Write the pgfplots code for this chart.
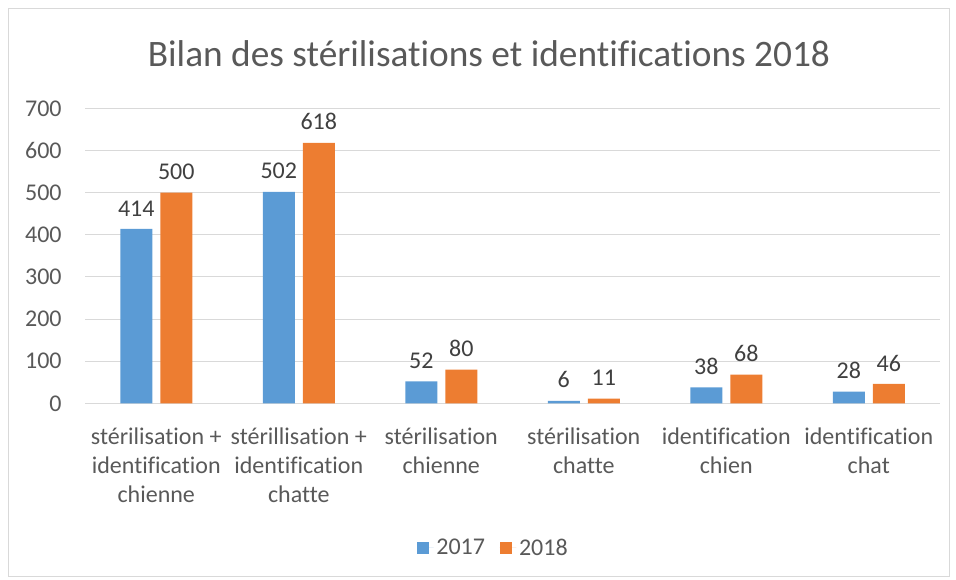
\documentclass[border=0pt]{standalone}
\usepackage{fontspec}
\setmainfont{Carlito}[Ligatures=NoCommon]
\usepackage{pgfplots}
\pgfplotsset{compat=1.18}
\definecolor{cblue}{HTML}{5B9BD5}
\definecolor{corange}{HTML}{ED7D31}
\definecolor{ctext}{HTML}{595959}
\definecolor{clabel}{HTML}{404040}
\definecolor{cgrid}{HTML}{D9D9D9}
\begin{document}
\begin{tikzpicture}
\path[use as bounding box] (0pt,0pt) rectangle (717pt,435pt);
\draw[cgrid, line width=0.75pt] (6pt,2.25pt) rectangle (711.75pt,428.25pt);
\node[ctext, font=\fontsize{28}{33}\selectfont] at (366.75pt,395pt) {Bilan des stérilisations et identifications 2018};
\begin{axis}[
  at={(63.75pt,132.5pt)}, anchor=south west,
  scale only axis, width=641.25pt, height=221.25pt,
  xmin=-0.5, xmax=5.5, ymin=0, ymax=700,
  ytick={0,100,...,700},
  xtick={0,1,2,3,4,5},
  xticklabels={{stérilisation +\\identification\\chienne},{stérillisation +\\identification\\chatte},{stérilisation\\chienne},{stérilisation\\chatte},{identification\\chien},{identification\\chat}},
  ymajorgrids, grid style={cgrid, line width=0.75pt},
  axis line style={draw=none},
  major tick length=0pt,
  tick label style={ctext, font=\fontsize{18}{21.5}\selectfont},
  /pgf/number format/assume math mode=true,
  yticklabel style={xshift=-14pt},
  xticklabel style={align=center, yshift=-15pt},
  ybar=6pt, bar width=24pt,
  nodes near coords,
  every node near coord/.append style={clabel, font=\fontsize{18}{22}\selectfont, yshift=6pt},
  legend style={draw=none, at={(0.478,-0.49)}, anchor=center, legend columns=2,
    font=\fontsize{18}{22}\selectfont, text=ctext,
    /tikz/every even column/.append style={column sep=9pt}},
  legend image code/.code={\fill[#1] (0pt,-4.5pt) rectangle (9pt,4.5pt); \path (0pt,0pt) -- (12.5pt,0pt);},
]
\addplot[fill=cblue, draw=none] coordinates {(0,414) (1,502) (2,52) (3,6) (4,38) (5,28)};
\addplot[fill=corange, draw=none] coordinates {(0,500) (1,618) (2,80) (3,11) (4,68) (5,46)};
\legend{2017,2018}
\end{axis}
\end{tikzpicture}
\end{document}
